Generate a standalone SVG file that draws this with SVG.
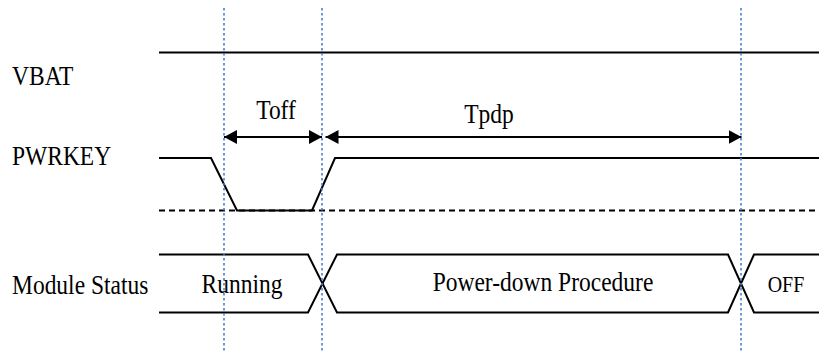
<svg xmlns="http://www.w3.org/2000/svg" width="819" height="354" viewBox="0 0 819 354">
<style>
.sig{fill:none;stroke:#000;stroke-width:2;stroke-linejoin:miter}
.dash{fill:none;stroke:#000;stroke-width:2;stroke-dasharray:6,4}
.guide{fill:none;stroke:#4a7fd0;stroke-width:1.6;stroke-dasharray:2.5,2.5}
.arr{fill:none;stroke:#000;stroke-width:2}
text{font-family:'Liberation Serif','Tinos','Nimbus Roman','Times New Roman','DejaVu Serif',serif;font-size:23.5px;fill:#000}
.tc{text-anchor:middle}
</style>
<defs>
<marker id="ah" viewBox="0 0 13 14" refX="13" refY="7" markerWidth="13" markerHeight="14" markerUnits="userSpaceOnUse" orient="auto-start-reverse">
<path d="M0,0 L13,7 L0,14 Z" fill="#000"/>
</marker>
</defs>
<rect width="819" height="354" fill="#fff"/>
<g id="labels">
<text font-family="Liberation Serif" transform="translate(12,85) scale(1,1.18)">VBAT</text>
<text font-family="Liberation Serif" transform="translate(12,165) scale(1,1.18)">PWRKEY</text>
<text font-family="Liberation Serif" transform="translate(12,294) scale(1,1.18)">Module Status</text>
</g>
<g id="vbat">
<line class="sig" x1="159" y1="52.5" x2="819" y2="52.5"/>
</g>
<g id="pwrkey">
<polyline class="sig" points="159,158 211,158 237,210.5 312,210.5 335,158 819,158"/>
<line class="dash" x1="159" y1="210.5" x2="817" y2="210.5"/>
</g>
<g id="module-status">
<polyline class="sig" points="159,254.5 308,254.5 337,312.5 728,312.5 754,254.5 819,254.5"/>
<polyline class="sig" points="159,312.5 308,312.5 337,254.5 728,254.5 754,312.5 819,312.5"/>
<text class="tc" transform="translate(242,293) scale(1,1.18)">Running</text>
<text class="tc" transform="translate(543,291) scale(1,1.18)">Power-down Procedure</text>
<text class="tc" transform="translate(786,292) scale(1,1.18)" style="font-size:20px">OFF</text>
</g>
<g id="guides">
<line class="guide" x1="224" y1="8" x2="224" y2="352"/>
<line class="guide" x1="322" y1="8" x2="322" y2="352"/>
<line class="guide" x1="741" y1="8" x2="741" y2="352"/>
</g>
<g id="connectors">
<line class="arr" x1="224" y1="137" x2="322" y2="137" marker-start="url(#ah)" marker-end="url(#ah)"/>
<line class="arr" x1="325.5" y1="137" x2="741.5" y2="137" marker-start="url(#ah)" marker-end="url(#ah)"/>
<text class="tc" transform="translate(276,119) scale(1,1.18)">Toff</text>
<text class="tc" transform="translate(489,122.5) scale(1,1.18)">Tpdp</text>
</g>
</svg>
